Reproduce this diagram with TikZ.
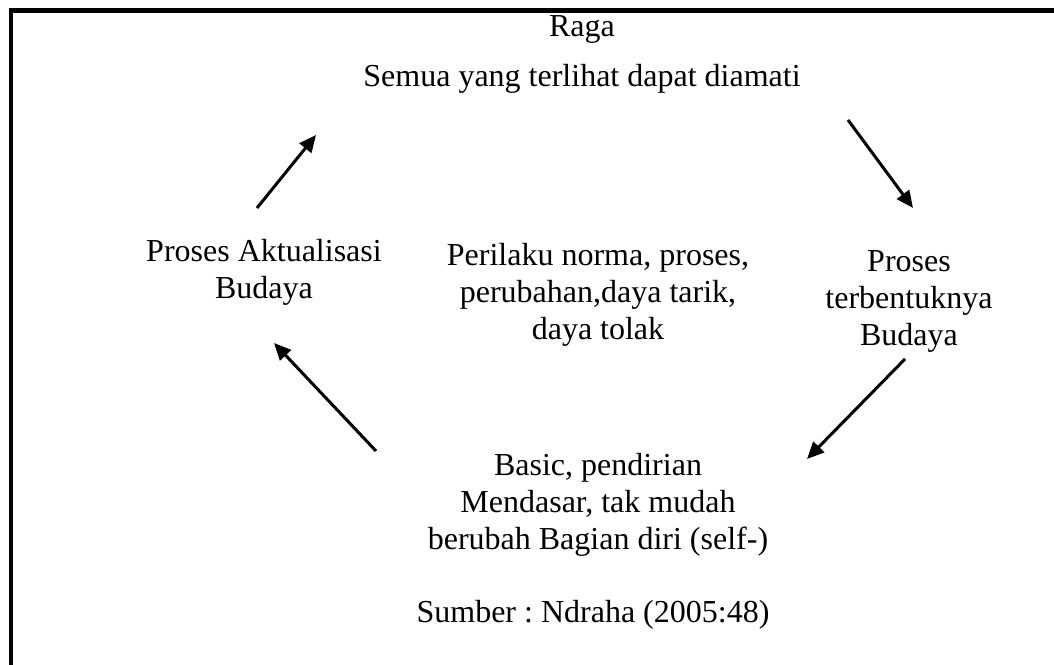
\documentclass[tikz,border=0pt]{standalone}
\usepackage{fontspec}
\setmainfont{Liberation Serif}
\usetikzlibrary{arrows.meta}
\begin{document}
\frenchspacing
\begin{tikzpicture}[x=1pt,y=1pt,
  label text/.style={inner sep=0pt, align=center, anchor=base,
    font=\fontsize{32}{37}\selectfont},
  cycle arrow/.style={line width=3pt, -{Triangle[length=17pt,width=15pt]}},
  frame line/.style={line width=4.5pt, line join=miter}]
  \clip (0,0) rectangle (1054,664);
  \useasboundingbox (0,0) rectangle (1054,664);

  % open frame along the top and left edges
  \draw[frame line] (10.8,-20) -- (10.8,653.5) -- (1080,653.5);

  % texts (base anchor sits on the last line of each block)
  \node[label text] (raga)   at (582,627) {Raga};
  \node[label text] (semua)  at (582,577) {Semua yang terlihat dapat diamati};
  \node[label text] (aktual) at (264,365) {Proses Aktualisasi\\Budaya};
  \node[label text] (norma)  at (598,324) {Perilaku norma, proses,\\perubahan,daya tarik,\\daya tolak};
  \node[label text] (bentuk) at (909,318) {Proses\\terbentuknya\\Budaya};
  \node[label text] (basic)  at (598,115) {Basic, pendirian\\Mendasar, tak mudah\\berubah Bagian diri (self-)};
  \node[label text] (sumber) at (593,42)  {Sumber : Ndraha (2005:48)};

  % arrow end points
  \coordinate (a1s) at (257,456); \coordinate (a1e) at (316,529);
  \coordinate (a2s) at (848,544); \coordinate (a2e) at (913,456);
  \coordinate (a3s) at (905,305); \coordinate (a3e) at (807,205);
  \coordinate (a4s) at (376,213); \coordinate (a4e) at (274,321);

  % cycle arrows
  \draw[cycle arrow] (a1s) -- (a1e);
  \draw[cycle arrow] (a2s) -- (a2e);
  \draw[cycle arrow] (a3s) -- (a3e);
  \draw[cycle arrow] (a4s) -- (a4e);
\end{tikzpicture}
\end{document}
